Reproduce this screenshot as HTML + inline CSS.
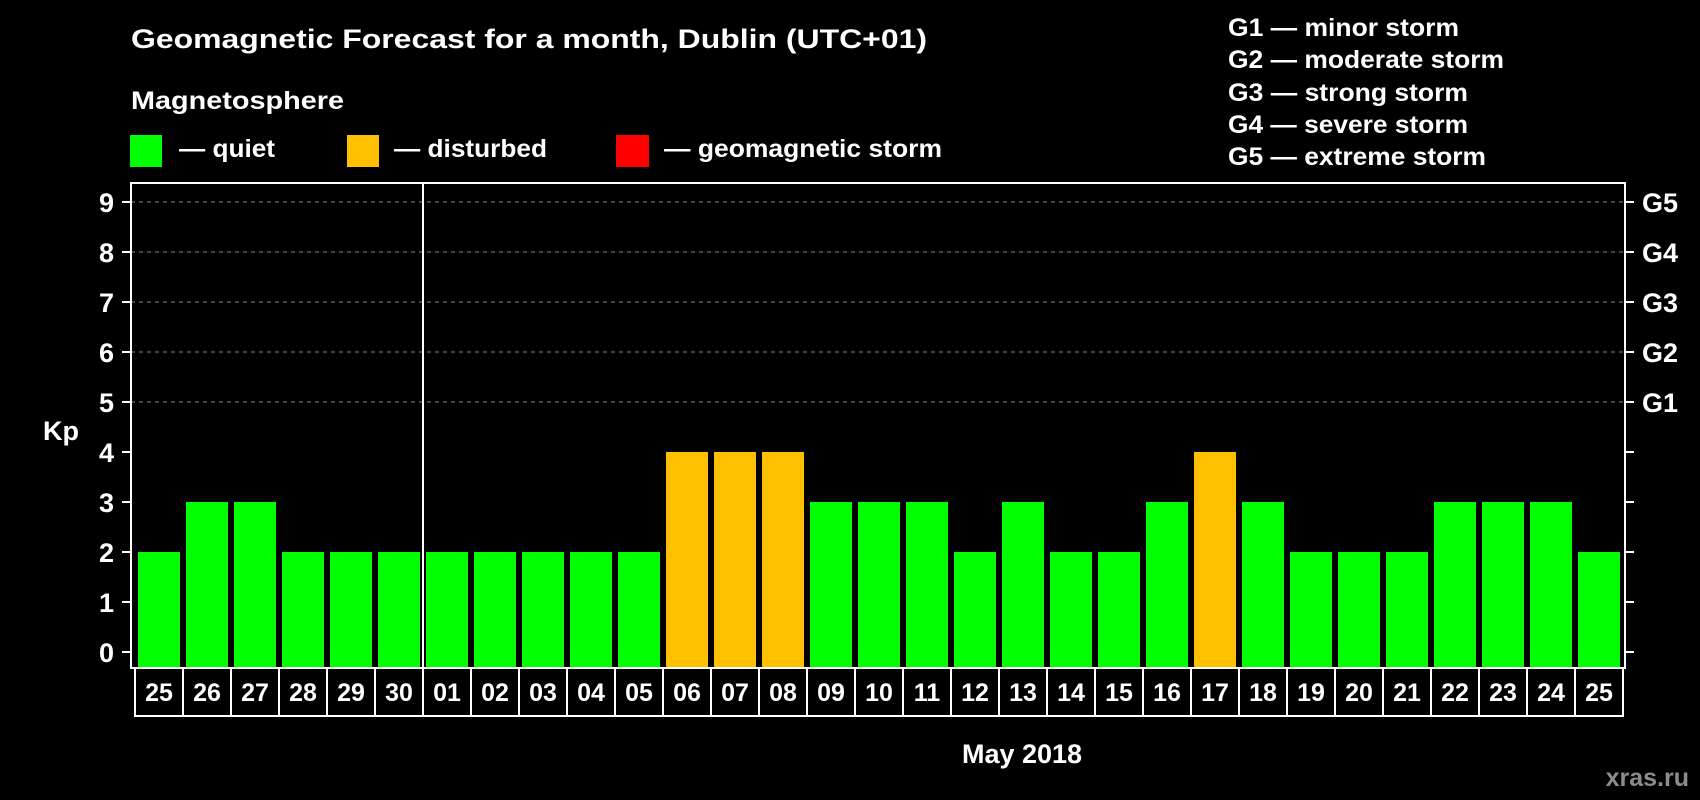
<!DOCTYPE html>
<html><head><meta charset="utf-8"><style>
body{margin:0;background:#000;}
svg{display:block;font-family:"Liberation Sans",Arial,sans-serif;font-weight:bold;}
</style></head><body>
<svg id="chart" width="1700" height="800" viewBox="0 0 1700 800">
<rect width="1700" height="800" fill="#000"/>
<text x="131" y="48" font-size="27" fill="#fff" textLength="796" lengthAdjust="spacingAndGlyphs">Geomagnetic Forecast for a month, Dublin (UTC+01)</text>
<text x="131" y="109" font-size="25" fill="#fff" textLength="213" lengthAdjust="spacingAndGlyphs">Magnetosphere</text>
<g>
<rect x="130" y="135" width="32" height="32" fill="#00ff00"/>
<text x="179" y="157" font-size="25" fill="#fff" textLength="96" lengthAdjust="spacingAndGlyphs">— quiet</text></g>
<g>
<rect x="347" y="135" width="32" height="32" fill="#ffc000"/>
<text x="394" y="157" font-size="25" fill="#fff" textLength="153" lengthAdjust="spacingAndGlyphs">— disturbed</text></g>
<g>
<rect x="616" y="135" width="33" height="32" fill="#ff0000"/>
<text x="664" y="157" font-size="25" fill="#fff" textLength="278" lengthAdjust="spacingAndGlyphs">— geomagnetic storm</text></g>
<g font-size="25" fill="#fff">
<text x="1228" y="36" textLength="231" lengthAdjust="spacingAndGlyphs">G1 — minor storm</text>
<text x="1228" y="68" textLength="276" lengthAdjust="spacingAndGlyphs">G2 — moderate storm</text>
<text x="1228" y="101" textLength="240" lengthAdjust="spacingAndGlyphs">G3 — strong storm</text>
<text x="1228" y="133" textLength="240" lengthAdjust="spacingAndGlyphs">G4 — severe storm</text>
<text x="1228" y="165" textLength="258" lengthAdjust="spacingAndGlyphs">G5 — extreme storm</text>
</g>
<text x="43" y="440" font-size="27" fill="#fff">Kp</text>
<text x="1022" y="763" font-size="27" fill="#fff" text-anchor="middle">May 2018</text>
<text x="1689" y="786" font-size="25" fill="#8c8c8c" text-anchor="end">xras.ru</text>
<g id="grid"></g><g id="bars"></g><g id="axes"></g>
</svg>
<script>
const days = ["25","26","27","28","29","30","01","02","03","04","05","06","07","08","09","10","11","12","13","14","15","16","17","18","19","20","21","22","23","24","25"];
const kp = [2,3,3,2,2,2,2,2,2,2,2,4,4,4,3,3,3,2,3,2,2,3,4,3,2,2,2,3,3,3,2];
const yTicks = [0,1,2,3,4,5,6,7,8,9];
const gLabels = ["G1","G2","G3","G4","G5"];
const gLevels = [5,6,7,8,9];
const NS="http://www.w3.org/2000/svg";
const L=131,R=1625,T=183,B=668;
const y=v=>652-v*50;
const x=i=>138+i*48;
function mk(tag,attrs,parent,txt){const e=document.createElementNS(NS,tag);for(const k in attrs)e.setAttribute(k,attrs[k]);if(txt!==undefined)e.textContent=txt;parent.appendChild(e);return e;}
const grid=document.getElementById('grid'),bars=document.getElementById('bars'),axes=document.getElementById('axes');
yTicks.forEach(v=>{
  if(v>=5){const g=mk('line',{x1:L,x2:R,y1:y(v),y2:y(v),stroke:'#888','stroke-dasharray':'4,4','stroke-width':1},grid);
  
  }
  const t1=mk('line',{x1:L-9,x2:L,y1:y(v),y2:y(v),stroke:'#fff','stroke-width':2},axes);
  
  
  const t2=mk('line',{x1:R,x2:R+9,y1:y(v),y2:y(v),stroke:'#fff','stroke-width':2},axes);
  
  
  const lb=mk('text',{x:114,y:y(v)+10,'font-size':27,fill:'#fff','text-anchor':'end'},axes,String(v));
  
  
});
gLabels.forEach((g,i)=>{
  const t=mk('text',{x:1642,y:y(gLevels[i])+10,'font-size':27,fill:'#fff'},axes,g);
  
  
});
kp.forEach((v,i)=>{
  const c=v>=5?'#ff0000':(v>=4?'#ffc000':'#00ff00');
  const b=mk('rect',{x:x(i),y:y(v),width:42,height:B-y(v),fill:c},bars);
  
  
});
const fr=mk('rect',{x:L,y:T,width:R-L,height:B-T,fill:'none',stroke:'#fff','stroke-width':2},axes);


const dv=mk('line',{x1:423,x2:423,y1:T,y2:B,stroke:'#fff','stroke-width':2},axes);


const bl=mk('line',{x1:135,x2:135+48*days.length,y1:716,y2:716,stroke:'#fff','stroke-width':2},axes);


days.forEach((d,i)=>{
  const vl=mk('line',{x1:135+48*i,x2:135+48*i,y1:B,y2:717,stroke:'#fff','stroke-width':2},axes);
  
  
  const t=mk('text',{x:159+48*i,y:701,'font-size':25,fill:'#fff','text-anchor':'middle'},axes,d);
  
  
});
const el=mk('line',{x1:135+48*days.length,x2:135+48*days.length,y1:B,y2:717,stroke:'#fff','stroke-width':2},axes);


</script>
</body></html>
